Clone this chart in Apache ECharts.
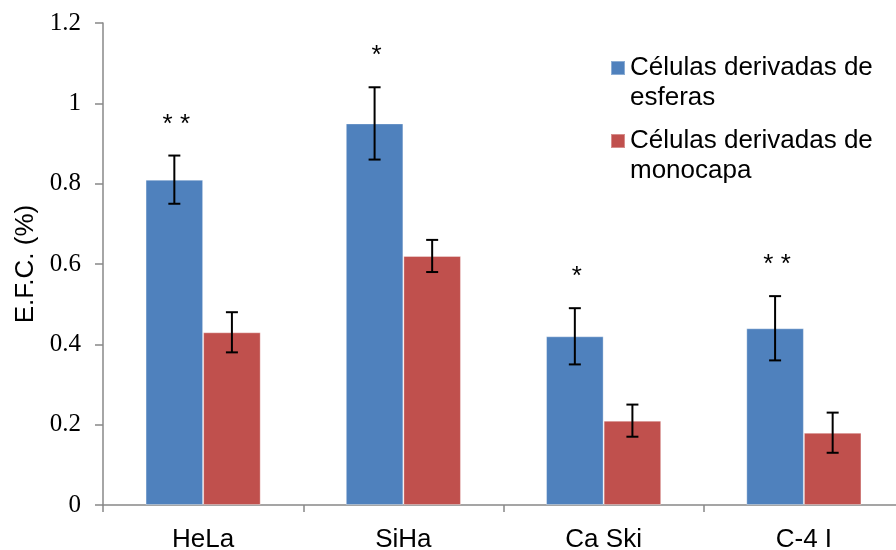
<!DOCTYPE html>
<html>
<head>
<meta charset="utf-8">
<script src="https://cdn.jsdelivr.net/npm/echarts@6/dist/echarts.min.js"></script>
<style>
  html, body { margin: 0; padding: 0; background: #fff; }
  #chart { width: 896px; height: 550px; }
</style>
</head>
<body>
<div id="chart"></div>
<script>
// Cell lines on the x axis
const categories = ['HeLa', 'SiHa', 'Ca Ski', 'C-4 I'];
const seriesNames = ['Células derivadas de\nesferas', 'Células derivadas de\nmonocapa'];

// Colony-forming efficiency (%) and error bar limits
const esferas = [0.81, 0.95, 0.42, 0.44];
const esferasLow = [0.75, 0.86, 0.35, 0.36];
const esferasHigh = [0.87, 1.04, 0.49, 0.52];

const monocapa = [0.43, 0.62, 0.21, 0.18];
const monocapaLow = [0.38, 0.58, 0.17, 0.13];
const monocapaHigh = [0.48, 0.66, 0.25, 0.23];

// Significance marks above the sphere-derived bars
const significance = ['* *', '*', '*', '* *'];

const yTickLabels = ['0', '0.2', '0.4', '0.6', '0.8', '1', '1.2'];

const CATEGORY_GAP = 0.425;
const SANS = '"Liberation Sans", Arial, sans-serif';
const SERIF = '"Liberation Serif", "Times New Roman", serif';

function barCenterX(api, idx, side) {
  const band = api.size([1, 0])[0];
  const barW = band * (1 - CATEGORY_GAP) / 2;
  const c = api.coord([idx, 0]);
  return c[0] + side * barW / 2;
}

function errorBarRenderer(side) {
  return function (params, api) {
    const idx = api.value(0);
    const x = barCenterX(api, idx, side);
    const yLo = api.coord([idx, api.value(1)])[1];
    const yHi = api.coord([idx, api.value(2)])[1];
    const cap = 6;
    const style = { stroke: '#000', lineWidth: 2 };
    return {
      type: 'group',
      children: [
        { type: 'line', shape: { x1: x, y1: yLo, x2: x, y2: yHi }, style: style },
        { type: 'line', shape: { x1: x - cap, y1: yHi, x2: x + cap, y2: yHi }, style: style },
        { type: 'line', shape: { x1: x - cap, y1: yLo, x2: x + cap, y2: yLo }, style: style }
      ]
    };
  };
}

function significanceRenderer(params, api) {
  const idx = api.value(0);
  const x = barCenterX(api, idx, -1);
  const yHi = api.coord([idx, api.value(1)])[1];
  return {
    type: 'text',
    style: {
      x: x + 2,
      y: yHi - 31,
      text: significance[idx],
      fill: '#000',
      font: '26px ' + SANS,
      textAlign: 'center',
      textVerticalAlign: 'middle'
    }
  };
}

const chart = echarts.init(document.getElementById('chart'), null, { renderer: 'canvas' });

chart.setOption({
  animation: false,
  backgroundColor: '#fff',
  textStyle: { fontFamily: SANS },
  grid: {
    left: 103, top: 23, width: 801, height: 482,
    containLabel: false,
    outerBoundsMode: 'none'
  },
  legend: {
    orient: 'vertical',
    left: 605,
    top: 18,
    itemWidth: 14,
    itemHeight: 14,
    itemGap: -17,
    icon: 'rect',
    data: seriesNames,
    // leading blank line keeps the first text line level with the swatch
    formatter: function (name) { return '\n' + name; },
    textStyle: {
      fontSize: 26,
      lineHeight: 30,
      color: '#000',
      fontFamily: SANS
    }
  },
  xAxis: {
    type: 'category',
    data: categories,
    axisLine: { lineStyle: { color: '#888', width: 1.5 } },
    axisTick: { show: true, length: 7, lineStyle: { color: '#888', width: 1.5 } },
    axisLabel: {
      color: '#000',
      fontSize: 26,
      margin: 22,
      fontFamily: SANS
    }
  },
  yAxis: {
    type: 'value',
    min: 0,
    max: 1.2,
    interval: 0.2,
    name: 'E.F.C. (%)',
    nameLocation: 'middle',
    nameRotate: 90,
    nameGap: 64,
    nameTextStyle: { color: '#000', fontSize: 26, fontFamily: SANS },
    axisLine: { show: true, lineStyle: { color: '#888', width: 1.5 } },
    axisTick: { show: true, length: 8, lineStyle: { color: '#888', width: 1.5 } },
    splitLine: { show: false },
    axisLabel: {
      color: '#000',
      fontSize: 25,
      margin: 22,
      fontFamily: SERIF,
      formatter: function (v) { return yTickLabels[Math.round(v / 0.2)]; }
    }
  },
  series: [
    {
      name: seriesNames[0],
      type: 'bar',
      data: esferas,
      barGap: '0%',
      barCategoryGap: (CATEGORY_GAP * 100) + '%',
      itemStyle: { color: '#4F81BD', borderColor: 'rgba(255,255,255,0.35)', borderWidth: 1 }
    },
    {
      name: seriesNames[1],
      type: 'bar',
      data: monocapa,
      barGap: '0%',
      barCategoryGap: (CATEGORY_GAP * 100) + '%',
      itemStyle: { color: '#C0504D', borderColor: 'rgba(255,255,255,0.35)', borderWidth: 1 }
    },
    {
      type: 'custom',
      renderItem: errorBarRenderer(-1),
      encode: { x: 0, y: [1, 2] },
      data: categories.map((c, i) => [i, esferasLow[i], esferasHigh[i]]),
      z: 10,
      silent: true
    },
    {
      type: 'custom',
      renderItem: errorBarRenderer(1),
      encode: { x: 0, y: [1, 2] },
      data: categories.map((c, i) => [i, monocapaLow[i], monocapaHigh[i]]),
      z: 10,
      silent: true
    },
    {
      type: 'custom',
      renderItem: significanceRenderer,
      encode: { x: 0, y: 1 },
      data: categories.map((c, i) => [i, esferasHigh[i]]),
      z: 10,
      silent: true
    }
  ]
});
</script>
</body>
</html>
